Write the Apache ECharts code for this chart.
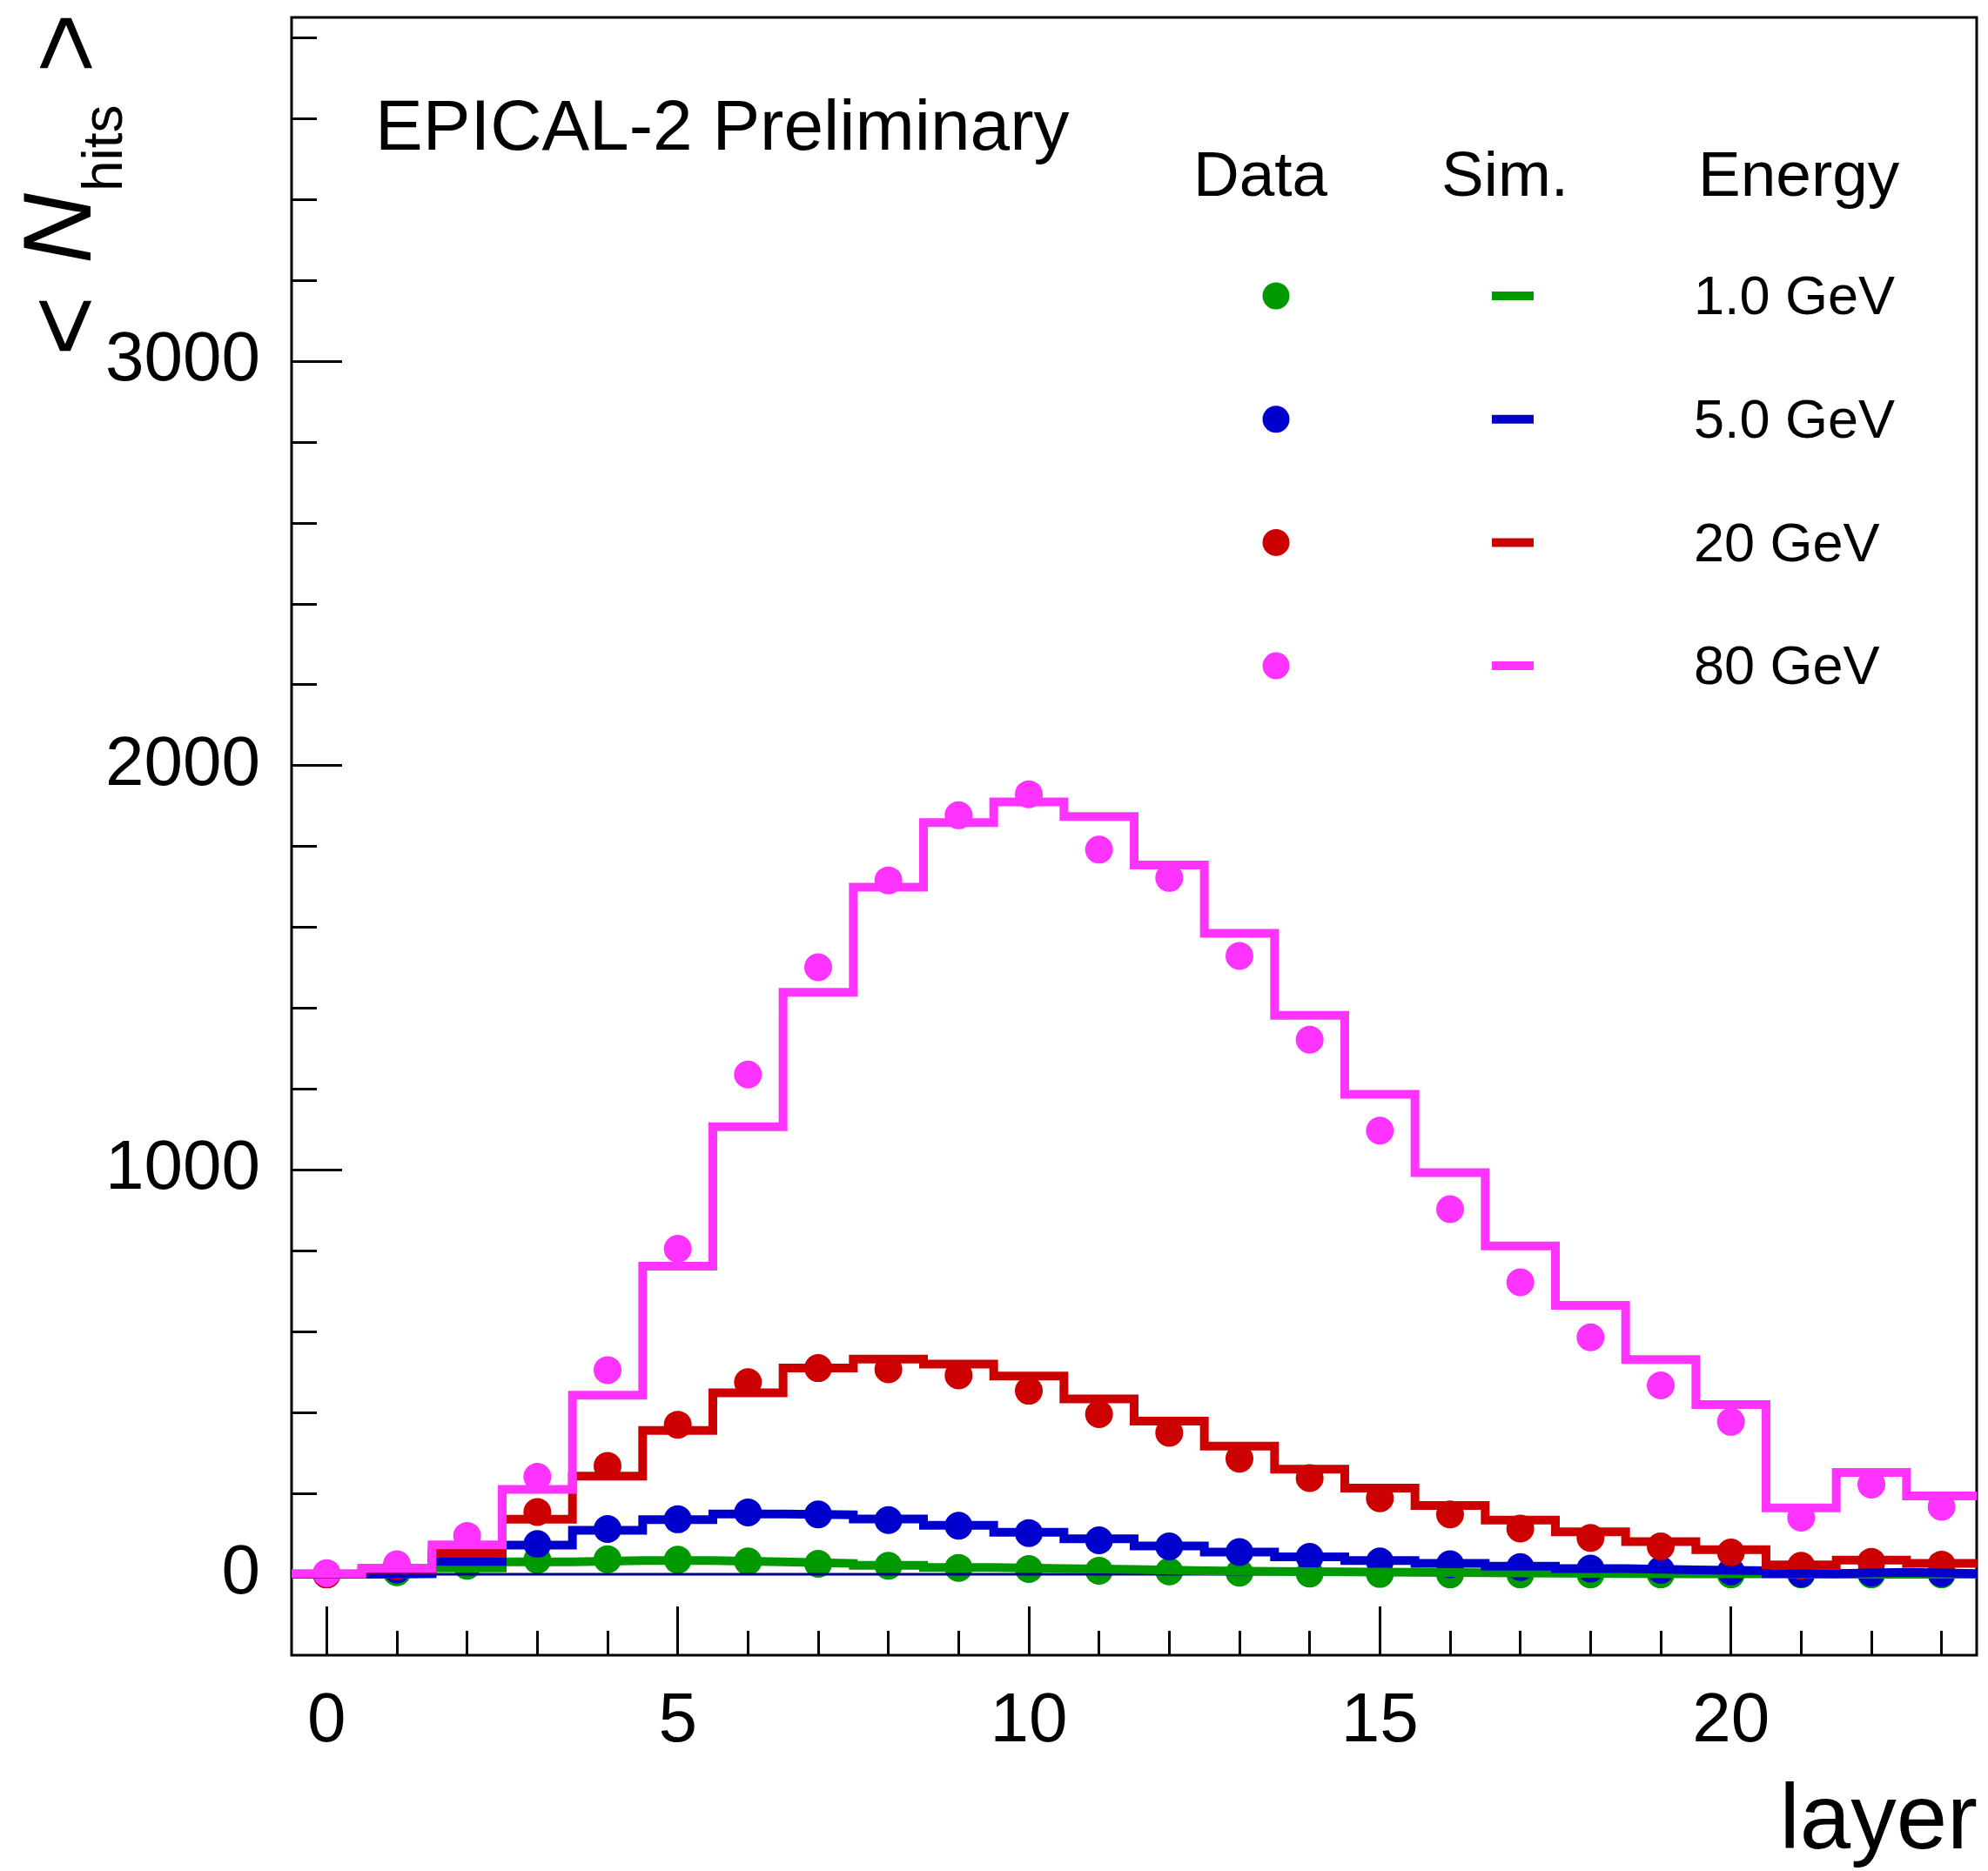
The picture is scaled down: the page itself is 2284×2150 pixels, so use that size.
<!DOCTYPE html>
<html>
<head>
<meta charset="utf-8">
<title>EPICAL-2 longitudinal profile</title>
<script src="https://cdn.jsdelivr.net/npm/echarts@6/dist/echarts.min.js"></script>
<style>
  html, body { margin: 0; padding: 0; background: #ffffff; }
  #chart { width: 2284px; height: 2150px; }
</style>
</head>
<body>
<div id="chart"></div>
<script>
// Layer index (bin centres)
const layers = [0, 1, 2, 3, 4, 5, 6, 7, 8, 9, 10, 11, 12, 13, 14, 15, 16, 17, 18, 19, 20, 21, 22, 23];

// Mean number of hits per layer: simulation (histograms) and data (points)
const sim1GeV  = [0, 1, 16, 31, 34, 34, 31, 27, 22, 17, 14, 12, 9, 7, 6, 5, 4, 3, 2, 1, 1, 0, 0, 0];
const data1GeV = [0, 5, 21, 36, 37, 36, 32, 26, 21, 16, 13, 9, 7, 4, 2, 1, 0, 0, 0, 0, 0, 0, 0, 0];

const sim5GeV  = [0, 2, 32, 72, 109, 135, 149, 147, 137, 121, 104, 88, 70, 55, 43, 34, 27, 20, 14, 11, 9, 2, 5, 2];
const data5GeV = [0, 12, 40, 75, 112, 136, 153, 148, 134, 120, 102, 84, 69, 55, 43, 32, 25, 18, 14, 11, 7, 2, 4, 3];

const sim20GeV  = [0, 12, 52, 136, 243, 356, 449, 510, 532, 520, 490, 434, 379, 317, 260, 213, 170, 134, 105, 81, 61, 23, 35, 27];
const data20GeV = [0, 20, 53, 154, 268, 370, 475, 510, 507, 492, 454, 396, 350, 286, 238, 188, 148, 113, 90, 69, 54, 21, 31, 24];

const sim80GeV  = [2, 15, 73, 210, 443, 762, 1107, 1439, 1699, 1859, 1910, 1874, 1754, 1585, 1382, 1187, 993, 812, 665, 531, 420, 164, 252, 194];
const data80GeV = [3, 25, 95, 241, 505, 805, 1236, 1501, 1716, 1877, 1929, 1792, 1722, 1529, 1322, 1097, 903, 722, 586, 467, 377, 140, 222, 167];

// Tick positions
const xMajorTicks = [0, 5, 10, 15, 20];
const xMinorTicks = [1, 2, 3, 4, 6, 7, 8, 9, 11, 12, 13, 14, 16, 17, 18, 19, 21, 22, 23];
const yMajorTicks = [0, 1000, 2000, 3000];
const yMinorTicks = [200, 400, 600, 800, 1200, 1400, 1600, 1800, 2200, 2400, 2600, 2800, 3200, 3400, 3600, 3800];

// Legend entries
const energyLabels = ['1.0 GeV', '5.0 GeV', '20 GeV', '80 GeV'];
const energyColors = ['#009900', '#0000cc', '#cc0000', '#ff33ff'];

const FONT = "'Liberation Sans', Arial, Helvetica, sans-serif";

// Histogram outline: one point per lower bin edge plus the final upper edge
function histOutline(values) {
  const pts = values.map((v, i) => [layers[i] - 0.5, v]);
  pts.push([layers[layers.length - 1] + 0.5, values[values.length - 1]]);
  return pts;
}
function points(values) {
  return values.map((v, i) => [layers[i], v]);
}

const simSets = [sim1GeV, sim5GeV, sim20GeV, sim80GeV];
const dataSets = [data1GeV, data5GeV, data20GeV, data80GeV];

const series = [{
  type: 'line',
  name: 'zero',
  data: [[-0.5, 0], [23.5, 0]],
  symbol: 'none',
  lineStyle: { color: '#00008f', width: 3 },
  silent: true
}];
simSets.forEach((sim, k) => {
  series.push({
    type: 'line',
    name: 'Sim. ' + energyLabels[k],
    data: histOutline(sim),
    step: 'end',
    symbol: 'none',
    lineStyle: { color: energyColors[k], width: 10, join: 'miter', cap: 'butt' }
  });
  series.push({
    type: 'scatter',
    name: 'Data ' + energyLabels[k],
    data: points(dataSets[k]),
    symbol: 'circle',
    symbolSize: 32,
    itemStyle: { color: energyColors[k], opacity: 1 }
  });
});

// Legend block and annotations
const rowY0 = 340, rowStep = 141.7;
function label(text, x, y, size, align, extra) {
  return Object.assign({
    type: 'text', x: x, y: y,
    style: Object.assign({ text: text, fontSize: size, fontFamily: FONT, fill: '#000',
             textAlign: align, textVerticalAlign: 'middle', align: align, verticalAlign: 'middle' }, extra || {})
  });
}
const graphics = [
  label('EPICAL-2 Preliminary', 431, 149, 82, 'left'),
  label('Data', 1371, 205, 73, 'left'),
  label('Sim.', 1656, 205, 73, 'left'),
  label('Energy', 1951, 205, 73, 'left'),
  label('layer', 2272, 2095, 105, 'right'),
  {
    // vertical axis title  < N_hits >
    type: 'group', x: 112, y: 402, rotation: Math.PI / 2,
    children: [
      label('<', -7, -31, 118, 'left'),
      label('N', 99, -39, 112, 'left', { fontStyle: 'italic' }),
      label('hits', 182, 10, 64, 'left'),
      label('>', 318, -30, 118, 'left')
    ]
  }
];
energyLabels.forEach((lab, k) => {
  const cy = rowY0 + k * rowStep;
  graphics.push({ type: 'circle', shape: { cx: 1466, cy: cy, r: 15.5 }, style: { fill: energyColors[k] } });
  graphics.push({ type: 'rect', shape: { x: 1714, y: cy - 5, width: 48, height: 10 }, style: { fill: energyColors[k] } });
  graphics.push(label(lab, 1946, cy + 4, 63, 'left'));
});

const axisCommon = {
  type: 'value',
  splitLine: { show: false },
  axisLine: { show: false, onZero: false }
};

const option = {
  animation: false,
  backgroundColor: '#ffffff',
  grid: {
    left: 335, right: 13, top: 20, bottom: 248,
    show: true, borderColor: '#000', borderWidth: 3, backgroundColor: 'transparent'
  },
  xAxis: [
    Object.assign({}, axisCommon, {
      min: -0.5, max: 23.5, position: 'bottom',
      axisTick: { show: true, inside: true, length: 56, customValues: xMajorTicks,
                  lineStyle: { color: '#000', width: 3 } },
      axisLabel: { show: true, customValues: xMajorTicks, margin: 37, fontSize: 80,
                   fontFamily: FONT, color: '#000', formatter: v => String(v) }
    }),
    Object.assign({}, axisCommon, {
      min: -0.5, max: 23.5, position: 'bottom',
      axisTick: { show: true, inside: true, length: 28, customValues: xMinorTicks,
                  lineStyle: { color: '#000', width: 3 } },
      axisLabel: { show: false }
    })
  ],
  yAxis: [
    Object.assign({}, axisCommon, {
      min: -200, max: 3850, position: 'left',
      axisTick: { show: true, inside: true, length: 58, customValues: yMajorTicks,
                  lineStyle: { color: '#000', width: 3 } },
      axisLabel: { show: true, customValues: yMajorTicks, margin: 36, fontSize: 80,
                   fontFamily: FONT, color: '#000', formatter: v => String(v) }
    }),
    Object.assign({}, axisCommon, {
      min: -200, max: 3850, position: 'left',
      axisTick: { show: true, inside: true, length: 29, customValues: yMinorTicks,
                  lineStyle: { color: '#000', width: 3 } },
      axisLabel: { show: false }
    })
  ],
  series: series,
  graphic: graphics
};

const chart = echarts.init(document.getElementById('chart'), null, { renderer: 'canvas' });
chart.setOption(option);
</script>
</body>
</html>
